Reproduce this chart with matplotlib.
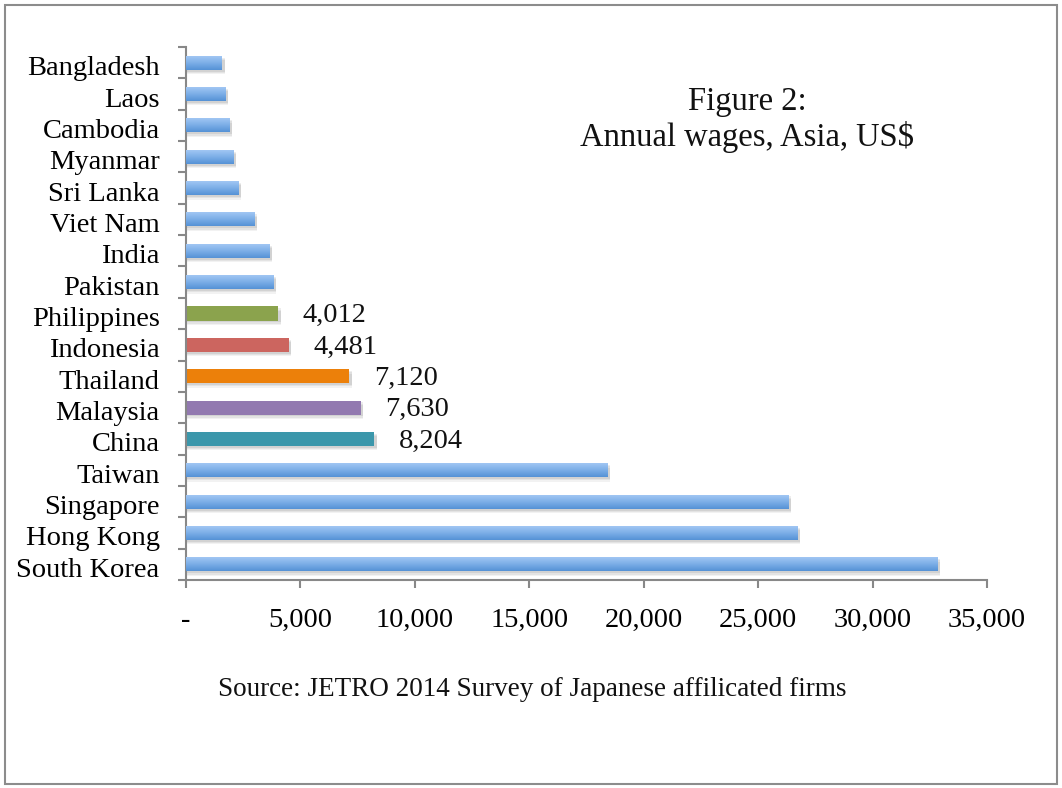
import matplotlib
matplotlib.use("Agg")
import matplotlib.pyplot as plt
import matplotlib.patches as mpatches
from matplotlib.colors import LinearSegmentedColormap
from matplotlib.transforms import ScaledTranslation
import numpy as np

countries = ["South Korea", "Hong Kong", "Singapore", "Taiwan", "China", "Malaysia",
             "Thailand", "Indonesia", "Philippines", "Pakistan", "India", "Viet Nam",
             "Sri Lanka", "Myanmar", "Cambodia", "Laos", "Bangladesh"]
wages = [32820, 26730, 26320, 18410, 8204, 7630, 7120, 4481, 4012, 3816, 3641, 2985,
         2286, 2068, 1893, 1718, 1573]
highlight = {"China": "#3B97AB", "Malaysia": "#9279B0", "Thailand": "#EC800A",
             "Indonesia": "#CC655F", "Philippines": "#8BA34D"}
xticks = [0, 5000, 10000, 15000, 20000, 25000, 30000, 35000]
xticklabels = ["-", "5,000", "10,000", "15,000", "20,000", "25,000", "30,000", "35,000"]

plt.rcParams['font.family'] = ['Liberation Serif', 'DejaVu Serif']

W, H = 1062, 788
fig = plt.figure(figsize=(W / 100, H / 100), dpi=100)
fig.patch.set_facecolor("white")
fig.patches.append(mpatches.Rectangle((5 / W, 4 / H), 1 - 10 / W, 1 - 9 / H,
                                      transform=fig.transFigure, fill=False,
                                      edgecolor="#8c8c8c", linewidth=1.5))

ax = fig.add_axes([186 / W, 1 - 580 / H, 801 / W, 533 / H])
y = np.arange(len(countries))
bh = 0.45

grad = np.linspace(0, 1, 64).reshape(-1, 1)
cmap = LinearSegmentedColormap.from_list("b", ["#5592D6", "#7EB0E8", "#A6C9F5"])

for yi, name, v in zip(y, countries, wages):
    # soft shadow
    for k, a in [(0.14, 0.05), (0.10, 0.06), (0.06, 0.07)]:
        ax.add_patch(mpatches.Rectangle((0, yi - bh / 2 - k), v + 120, bh,
                                        facecolor="#000000", alpha=a, edgecolor="none",
                                        zorder=1))
    if name in highlight:
        ax.barh(yi, v, height=bh, color=highlight[name], zorder=2)
        ax.annotate(f"{v:,}", (v, yi), xytext=(18, -1.5), textcoords="offset points",
                    va="center", ha="left", fontsize=20.5, color="#111111")
    else:
        b = ax.barh(yi, v, height=bh, color="#8DB8EA", zorder=2)[0]
        im = ax.imshow(grad, cmap=cmap, aspect="auto", origin="lower",
                       extent=(0, v, yi - bh / 2, yi + bh / 2), zorder=3)
        im.set_clip_path(b)

ax.set_xlim(0, 35000)
ax.set_ylim(-0.5, len(countries) - 0.5)
ax.set_xticks(xticks)
ax.set_xticklabels(xticklabels, fontsize=20.5)
ax.set_yticks(y)
ax.set_yticklabels(countries, fontsize=20.5)
ax.set_yticks(np.arange(-0.5, len(countries), 1), minor=True)
ax.tick_params(axis="y", which="major", length=0, pad=19)
ax.tick_params(axis="y", which="minor", length=6, color="#888888", width=1.5)
ax.tick_params(axis="x", length=6, color="#888888", width=1.5, pad=14)
off = ScaledTranslation(0, -3 / 100, fig.dpi_scale_trans)
for lab in ax.get_yticklabels():
    lab.set_transform(lab.get_transform() + off)
for s in ["top", "right"]:
    ax.spines[s].set_visible(False)
for s in ["left", "bottom"]:
    ax.spines[s].set_color("#888888")
    ax.spines[s].set_linewidth(1.5)

fig.text(747 / W, 1 - 120 / H, "Figure 2:\nAnnual wages, Asia, US$", ha="center",
         va="center", fontsize=23.5, color="#111111", linespacing=1.15)
fig.text(532 / W, 1 - 690 / H, "Source: JETRO 2014 Survey of Japanese affilicated firms",
         ha="center", va="center", fontsize=19.5, color="#111111")

fig.savefig("out.png", dpi=100)
